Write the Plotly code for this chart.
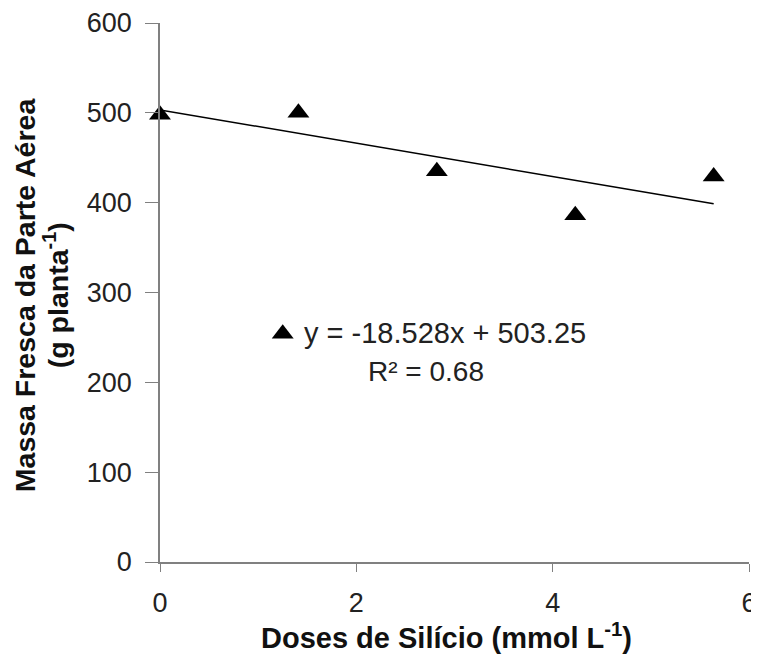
import plotly.graph_objects as go

doses = [0, 1.41, 2.82, 4.23, 5.64]
massa = [498, 500, 435, 386, 429]
slope = -18.528
intercept = 503.25
r2 = 0.68
x_ticks = [0, 2, 4, 6]
y_ticks = [0, 100, 200, 300, 400, 500, 600]

fit_x = [doses[0], doses[-1]]
fit_y = [slope * v + intercept for v in fit_x]

FONT = "Liberation Sans, Arial, sans-serif"
TXT = "#222"

fig = go.Figure()
fig.add_trace(go.Scatter(x=fit_x, y=fit_y, mode="lines",
                         line=dict(color="black", width=1.5), showlegend=False,
                         cliponaxis=False))
fig.add_trace(go.Scatter(x=doses, y=massa, mode="markers",
                         marker=dict(symbol="triangle-up", size=19, color="black"),
                         showlegend=False, cliponaxis=False))
# legend key marker for the equation
fig.add_trace(go.Scatter(x=[1.25], y=[254], mode="markers",
                         marker=dict(symbol="triangle-up", size=19, color="black"),
                         showlegend=False))

fig.add_annotation(x=1.45, y=255, xanchor="left", yanchor="middle",
                   text=f"y = {slope}x + {intercept}", showarrow=False,
                   font=dict(family=FONT, size=29, color=TXT))
fig.add_annotation(x=2.71, y=212, xanchor="center", yanchor="middle",
                   text=f"R² = {r2}", showarrow=False,
                   font=dict(family=FONT, size=28, color=TXT))

# axis titles
fig.add_annotation(xref="paper", yref="paper", x=0, y=0.495, xshift=-135,
                   xanchor="center", yanchor="middle", textangle=-90,
                   text="<b>Massa Fresca da Parte Aérea</b>", showarrow=False,
                   font=dict(family=FONT, size=28.5, color="#111"))
fig.add_annotation(xref="paper", yref="paper", x=0, y=0.495, xshift=-104,
                   xanchor="center", yanchor="middle", textangle=-90,
                   text="<b>(g planta<sup>-1</sup>)</b>", showarrow=False,
                   font=dict(family=FONT, size=28.5, color="#111"))
fig.add_annotation(xref="paper", yref="paper", x=0.487, y=0, yshift=-74,
                   xanchor="center", yanchor="middle",
                   text="<b>Doses de Silício (mmol L<sup>-1</sup>)</b>", showarrow=False,
                   font=dict(family=FONT, size=29, color="#111"))

# page body has an 8px margin: size the figure so the plot lands where the reference has it
fig.update_layout(
    width=751, height=651,
    margin=dict(l=152, r=10, t=15, b=97),
    plot_bgcolor="white", paper_bgcolor="white",
    font=dict(family=FONT, size=26, color=TXT),
)
fig.update_xaxes(range=[0, 6], tickvals=x_ticks, showgrid=False, zeroline=False,
                 showline=True, linecolor="#808080", linewidth=1.5,
                 ticks="outside", ticklen=8, tickcolor="#808080",
                 ticklabelstandoff=8,
                 tickfont=dict(size=27, color=TXT), automargin=False)
fig.update_yaxes(range=[0, 600], tickvals=y_ticks, showgrid=False, zeroline=False,
                 showline=True, linecolor="#808080", linewidth=1.5,
                 ticks="outside", ticklen=13, tickcolor="#808080",
                 ticklabelstandoff=8,
                 tickfont=dict(size=27, color=TXT), automargin=False)

fig.write_html("out.html")
